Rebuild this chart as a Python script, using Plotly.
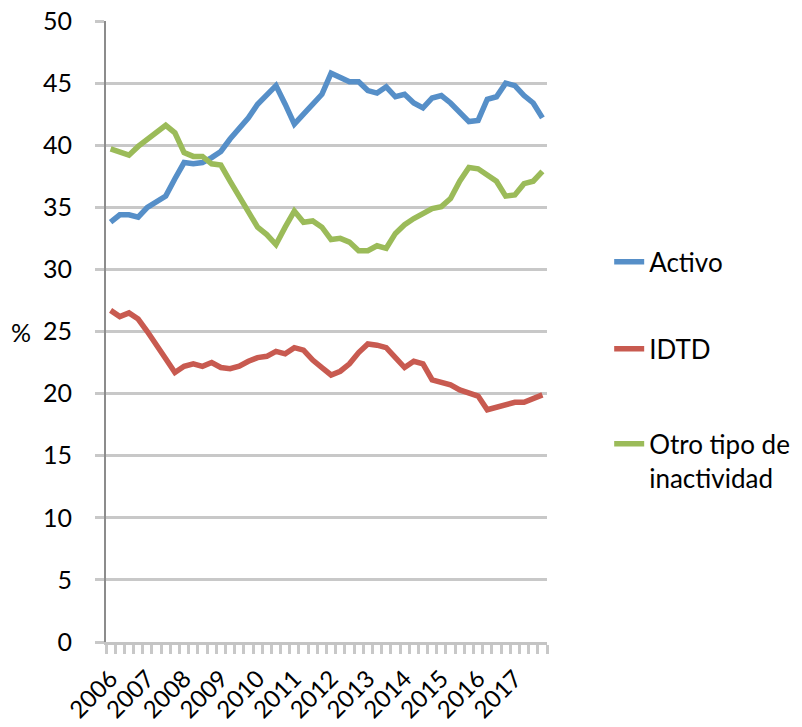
import plotly.graph_objects as go

years = ["2006", "2007", "2008", "2009", "2010", "2011", "2012",
         "2013", "2014", "2015", "2016", "2017"]

activo = [33.8, 34.4, 34.4, 34.2, 35.0, 35.5, 35.9, 37.3, 38.6, 38.5, 38.6, 39.0,
          39.5, 40.5, 41.4, 42.2, 43.3, 44.1, 44.8, 43.3, 41.7, 42.5, 43.3, 44.1,
          45.8, 45.5, 45.1, 45.1, 44.4, 44.2, 44.7, 43.9, 44.1, 43.4, 43.0, 43.8,
          44.0, 43.4, 42.6, 41.9, 42.0, 43.7, 43.9, 45.0, 44.8, 44.0, 43.4, 42.2]

idtd = [26.7, 26.2, 26.5, 26.0, 25.0, 23.8, 22.8, 21.7, 22.2, 22.4, 22.2, 22.5,
        22.1, 22.0, 22.2, 22.6, 22.9, 23.0, 23.4, 23.2, 23.7, 23.5, 22.7, 22.1,
        21.5, 21.8, 22.4, 23.3, 24.0, 23.9, 23.7, 22.9, 22.1, 22.6, 22.4, 21.1,
        20.9, 20.7, 20.3, 20.05, 19.8, 18.7, 18.9, 19.2, 19.3, 19.3, 19.6, 19.9]

otro = [39.7, 39.5, 39.2, 39.9, 40.5, 41.0, 41.6, 41.0, 39.4, 39.1, 39.1, 38.5,
        38.4, 37.1, 35.9, 34.7, 33.4, 32.8, 32.0, 33.4, 34.7, 33.8, 33.9, 33.4,
        32.4, 32.5, 32.2, 31.5, 31.5, 31.9, 31.7, 32.9, 33.6, 34.1, 34.5, 34.9,
        35.05, 35.7, 37.1, 38.2, 38.1, 37.6, 37.1, 35.9, 36.0, 36.9, 37.1, 37.9]

series_names = ["Activo", "IDTD", "Otro tipo de<br>inactividad"]
colors = ["#568fc8", "#c85a50", "#9bbb59"]
legend_ids = ["legend", "legend2", "legend3"]

x = list(range(len(activo)))
tickvals = [i * 4 for i in range(len(years))]

fig = go.Figure()
for name, vals, col, lg in zip(series_names, [activo, idtd, otro], colors, legend_ids):
    fig.add_trace(go.Scatter(
        x=x, y=vals, mode="lines", name=name, legend=lg,
        line=dict(color=col, width=5.5),
    ))

FONT = "Lato, 'Open Sans', sans-serif"
legend_font = dict(family=FONT, size=26, color="black")


def legend_box(ypos):
    return dict(x=1.141, xanchor="left", y=ypos, yanchor="top",
                font=legend_font, valign="top", bgcolor="rgba(0,0,0,0)")


fig.update_layout(
    width=802, height=727,
    margin=dict(l=106, r=255, t=21, b=85, autoexpand=False),
    paper_bgcolor="white", plot_bgcolor="white",
    font=dict(family=FONT, size=25, color="black"),
    showlegend=True,
    legend=legend_box(0.65),
    legend2=legend_box(0.51),
    legend3=legend_box(0.357),
    annotations=[dict(
        text="%", xref="paper", yref="paper", x=-0.193, y=0.5,
        xanchor="center", yanchor="middle", showarrow=False,
        font=dict(family=FONT, size=25, color="black"),
    )],
)

fig.update_xaxes(
    range=[-0.5, len(activo) - 0.5],
    tickmode="array", tickvals=tickvals, ticktext=years,
    tickangle=-45, automargin=False, ticklabeloverflow="allow",
    ticks="outside", ticklen=10, tickcolor="rgba(0,0,0,0)",
    tickfont=dict(family=FONT, size=24, color="black"),
    showgrid=False, zeroline=False,
    showline=True, linecolor="#c4c4c4", linewidth=3,
    minor=dict(ticks="outside", tick0=-0.5, dtick=1, ticklen=9,
               tickcolor="#c8c8c8", tickwidth=2.5, showgrid=False),
)

fig.update_yaxes(
    range=[0, 50], dtick=5, tick0=0, automargin=False,
    ticklabeloverflow="allow",
    showgrid=True, gridcolor="#c8c8c8", gridwidth=3,
    ticks="outside", ticklen=9, tickwidth=3, tickcolor="#c8c8c8",
    ticklabelstandoff=18,
    tickfont=dict(family=FONT, size=25, color="black"),
    showline=True, linecolor="#8c8c8c", linewidth=2,
    zeroline=False,
)

fig.write_html(
    "out.html",
    config={"displayModeBar": False},
    post_script="document.body.style.margin='0';document.body.style.overflow='hidden';",
)
